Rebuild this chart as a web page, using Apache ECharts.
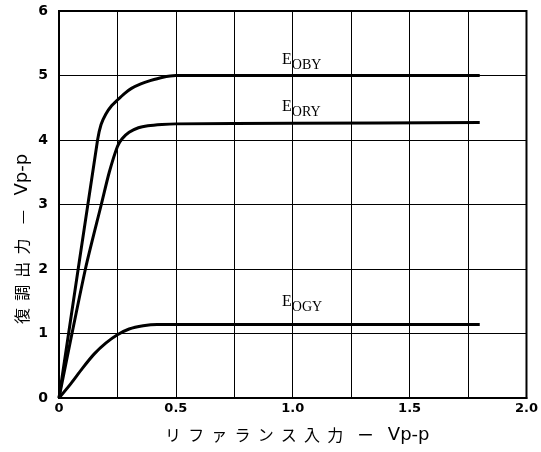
<!DOCTYPE html>
<html>
<head>
<meta charset="utf-8">
<script src="https://cdn.jsdelivr.net/npm/echarts@6/dist/echarts.min.js"></script>
<style>
  html, body { margin: 0; padding: 0; background: #fff; }
  #chart { width: 541px; height: 452px; }
</style>
</head>
<body>
<div id="chart"></div>
<script>
// 入力 (Vp-p) と出力 (Vp-p)
const eobyData = [[0, 0], [0.165, 4], [0.18, 4.24], [0.2, 4.4], [0.225, 4.53], [0.25, 4.62], [0.28, 4.72], [0.31, 4.8], [0.35, 4.87], [0.39, 4.92], [0.44, 4.97], [0.5, 5.0], [0.8, 5.0], [1.8, 5.0]];
const eoryData = [[0, 0], [0.113, 2], [0.181, 3], [0.215, 3.5], [0.25, 3.9], [0.27, 4.02], [0.3, 4.12], [0.34, 4.19], [0.38, 4.22], [0.44, 4.24], [0.5, 4.25], [1.0, 4.26], [1.8, 4.27]];
const eogyData = [[0, 0], [0.05, 0.22], [0.1, 0.46], [0.15, 0.68], [0.2, 0.85], [0.25, 0.98], [0.3, 1.07], [0.36, 1.12], [0.42, 1.14], [1.0, 1.14], [1.8, 1.14]];
const xTickLabels = { "0": "0", "0.5": "0.5", "1": "1.0", "1.5": "1.5", "2": "2.0" };
const yTickLabels = ["0", "1", "2", "3", "4", "5", "6"];

(function () {
  const myChart = echarts.init(document.getElementById("chart"));

  const lineStyle = { color: "#000", width: 3 };
  function curve(name, data) {
    return {
      name: name,
      type: "line",
      data: data,
      smooth: 0.25,
      showSymbol: false,
      lineStyle: lineStyle,
      silent: true,
    };
  }

  const labelFont = "'Liberation Serif', 'DejaVu Serif', serif";
  function subLabel(main, sub, x, y) {
    return {
      type: "text",
      left: x,
      top: y,
      style: {
        text: "{e|" + main + "}{s|" + sub + "}",
        rich: {
          e: { fontFamily: labelFont, fontSize: 16, color: "#000", verticalAlign: "top", padding: [0, 0, 5, 0] },
          s: { fontFamily: labelFont, fontSize: 14, color: "#000", padding: [5, 0, 0, 0] },
        },
      },
    };
  }

  const nameRich = {
    j: { fontFamily: "'Noto Sans CJK JP', sans-serif", fontSize: 16, color: "#000" },
    v: { fontFamily: "'DejaVu Sans', sans-serif", fontSize: 18, color: "#000" },
  };

  const option = {
    animation: false,
    backgroundColor: "#fff",
    grid: {
      left: 59,
      right: 11,
      top: 11,
      bottom: 54,
      show: true,
      borderColor: "#000",
      borderWidth: 2,
    },
    xAxis: {
      type: "value",
      min: 0,
      max: 2,
      interval: 0.25,
      axisLine: { lineStyle: { color: "#000", width: 2 } },
      axisTick: { show: false },
      splitLine: { lineStyle: { color: "#000", width: 1 } },
      axisLabel: {
        color: "#000",
        fontWeight: "bold",
        fontSize: 13,
        fontFamily: "'DejaVu Sans', sans-serif",
        margin: 4,
        formatter: function (v) {
          return xTickLabels[String(v)] || "";
        },
      },
    },
    yAxis: {
      type: "value",
      min: 0,
      max: 6,
      interval: 1,
      axisLine: { lineStyle: { color: "#000", width: 2 } },
      axisTick: { show: false },
      splitLine: { lineStyle: { color: "#000", width: 1 } },
      axisLabel: {
        color: "#000",
        fontWeight: "bold",
        fontSize: 14,
        fontFamily: "'DejaVu Sans', sans-serif",
        margin: 11,
        formatter: function (v) {
          return yTickLabels[v];
        },
      },
    },
    graphic: [
      subLabel("E", "OBY", 282, 52),
      subLabel("E", "ORY", 282, 99),
      subLabel("E", "OGY", 282, 294),
      {
        type: "text",
        left: 165,
        top: 426,
        style: {
          text: "{j|リ  フ  ァ  ラ  ン  ス  入  力    ー    }{v|Vp-p}",
          rich: nameRich,
        },
      },
      {
        type: "text",
        x: 13,
        y: 324,
        rotation: Math.PI / 2,
        style: {
          text: "{j|復  調  出  力    —    }{v|Vp-p}",
          rich: nameRich,
        },
      },
    ],
    series: [
      curve("EOBY", eobyData),
      curve("EORY", eoryData),
      curve("EOGY", eogyData),
    ],
  };

  myChart.setOption(option);

  window.addEventListener("resize", function () {
    myChart.resize();
  });
})();
</script>
</body>
</html>
